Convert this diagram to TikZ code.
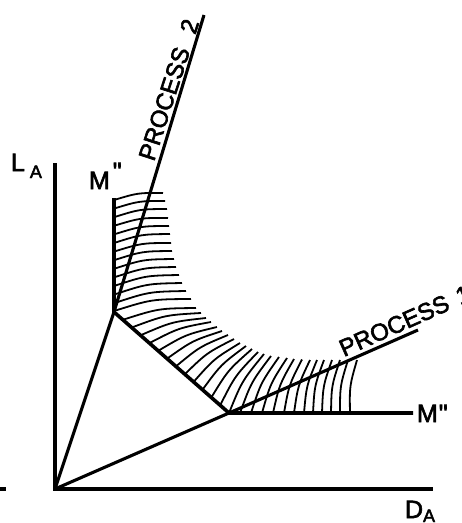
\documentclass[tikz,border=0pt]{standalone}
\usepackage{fontspec}
\setmainfont{Liberation Sans}
\newfontfamily\lblfont{Liberation Sans}[FakeBold=2.5]
\usepackage{graphicx}
\usetikzlibrary{calc}
\begin{document}
\begin{tikzpicture}[x=1pt,y=-1pt,
  axisline/.style={line width=3.6pt},
  procline/.style={line width=3.1pt},
  isoline/.style={line width=3.6pt},
  hatchline/.style={line width=1.8pt},
  lbl/.style={font=\lblfont\fontsize{25}{28}\selectfont, inner sep=0pt, outer sep=0pt},
  plbl/.style={font=\lblfont\fontsize{24}{28}\selectfont, inner sep=0pt, outer sep=0pt},
]
\useasboundingbox (0,0) rectangle (462,523);
\clip (0,0) rectangle (462,523);

\coordinate (O) at (55,489);
\coordinate (Ytop) at (55,163);
\coordinate (Xend) at (433,489);
\coordinate (Tick0) at (0,489);
\coordinate (Tick1) at (6,489);
\coordinate (A) at (114,312);
\coordinate (B) at (229,413);
\coordinate (P2) at (204,15);
\coordinate (P1) at (418,330);
\coordinate (Mv) at (114,198);
\coordinate (Mh) at (413,413);

% hatching
\foreach \ax/\ay/\bx/\by in {
  114/200/163/193, 114/208.6/165/201, 114/217.2/167/209, 114/225.8/168/218,
  114/234.4/169/226, 114/243/170/234, 114/251.6/171/243, 114/260.2/172/251,
  114/268.8/174/259, 114/277.4/176/267, 114/286/179/275, 114/294.6/182/283,
  114/303.2/186/291, 114/311/191/299,
  122.8/319.8/196/308, 131.7/327.5/201/313, 140.5/335.3/206/318, 149.4/343.1/211/322,
  158.2/350.8/217/327, 167.1/358.6/222/331, 175.9/366.4/228/335, 184.8/374.2/234/339,
  193.6/381.9/240/343, 202.5/389.7/246/346, 211.3/397.5/252/349, 220.2/405.2/258/352,
  229/413/264/354,
  240/413/271/356, 251/413/279/357, 262/413/287/358, 273/413/294/359,
  284/413/302/359.5, 294/413/310/360, 304/413/317/360, 313/413/324/360,
  322/413/332/360, 331/413/340/360, 340/413/348/360, 350/413/357/360}
  \draw[hatchline] (\ax,\ay) .. controls ($(\ax,\ay)!0.5!(\bx,\by)!0.15!90:(\bx,\by)$) .. (\bx,\by);

% axes
\draw[axisline] (Ytop) -- (O) -- (Xend);
\draw[axisline] (Tick0) -- (Tick1);

% processes
\draw[procline] (O) -- (A) -- (P2);
\draw[procline] (O) -- (B) -- (P1);

% isoquant
\draw[isoline] (Mv) -- (A) -- (B) -- (Mh);

% labels
\node[lbl, anchor=base west] (LA) at (11,171) {L\hspace{5pt}\raisebox{-7pt}{\fontsize{18}{20}\selectfont A}};
\node[lbl, anchor=base west] (M1) at (89,189) {M\hspace{3pt}\raisebox{9pt}{"}};
\node[lbl, anchor=base west] (M2) at (417,422) {M\hspace{1pt}"};
\node[lbl, anchor=base west] (DA) at (405,518) {D\raisebox{-4pt}{\fontsize{18}{20}\selectfont A}};
\node[plbl, anchor=base west, rotate=72] (PR2) at (154,162) {PROCESS\hspace{16pt}2};
\node[plbl, anchor=base west, rotate=24] (PR1) at (344,357) {PROCESS\hspace{10pt}1};
\end{tikzpicture}
\end{document}
